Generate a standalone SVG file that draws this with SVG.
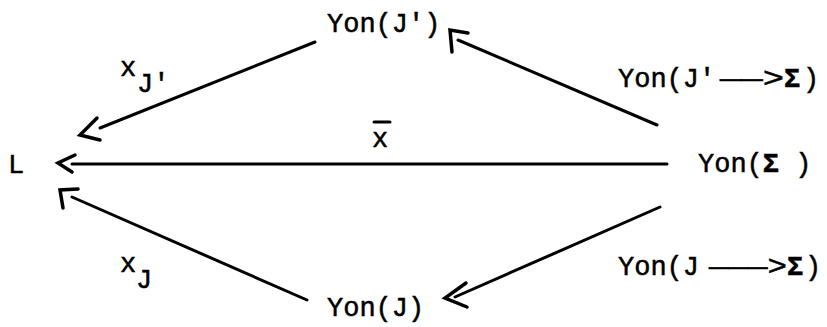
<svg xmlns="http://www.w3.org/2000/svg" width="827" height="327" viewBox="0 0 827 327">
<style>
.t{font-family:"Liberation Mono","Courier New",monospace;font-size:27px;fill:#000;stroke:#000;stroke-width:0.5}
.g{font-weight:bold}
.ln{stroke:#000;stroke-width:3;fill:none;stroke-linecap:round}
.ah{stroke:#000;stroke-width:3.5;fill:none;stroke-linecap:round;stroke-linejoin:miter}
</style>
<rect width="827" height="327" fill="#fff"/>
<g id="node-L"><text class="t" x="8" y="173">L</text></g>
<g id="node-YonJp"><text class="t" x="327" y="32">Yon(J')</text></g>
<g id="node-YonSigma"><text class="t" x="698" y="172">Yon(<tspan class="g">Σ</tspan> )</text></g>
<g id="node-YonJ"><text class="t" x="327" y="316">Yon(J)</text></g>
<g id="connectors">
  <g id="edge-xbar">
    <line class="ln" x1="72" y1="164" x2="667" y2="164"/>
    <polyline class="ah" points="75,155 58,163 72,172"/>
    <text class="t" x="372" y="147">x</text>
    <line class="ln" x1="374" y1="122" x2="390" y2="122"/>
  </g>
  <g id="edge-xJp">
    <line class="ln" x1="315" y1="42" x2="100" y2="128"/>
    <polyline class="ah" points="97,118 80,135 100,140"/>
    <text class="t" x="120" y="76">x</text>
    <text class="t" x="137" y="92">J'</text>
  </g>
  <g id="edge-xJ">
    <line class="ln" x1="307" y1="300" x2="72" y2="197"/>
    <polyline class="ah" points="78,189 60,190 63,208"/>
    <text class="t" x="120" y="272">x</text>
    <text class="t" x="136" y="288">J</text>
  </g>
  <g id="edge-YonJp-Sigma">
    <line class="ln" x1="657" y1="125" x2="458" y2="40"/>
    <polyline class="ah" points="468,33 450,30 452,52"/>
    <text class="t" x="618" y="87">Yon(J'<tspan x="720" textLength="64" lengthAdjust="spacingAndGlyphs">——&gt;</tspan><tspan class="g" x="784">Σ</tspan><tspan x="803">)</tspan></text>
  </g>
  <g id="edge-YonJ-Sigma">
    <line class="ln" x1="660" y1="207" x2="455" y2="297"/>
    <polyline class="ah" points="466,283 445,298 467,307"/>
    <text class="t" x="618" y="275">Yon(J<tspan x="709" textLength="78" lengthAdjust="spacingAndGlyphs">———&gt;</tspan><tspan class="g" x="787">Σ</tspan><tspan x="805">)</tspan></text>
  </g>
</g>
</svg>
